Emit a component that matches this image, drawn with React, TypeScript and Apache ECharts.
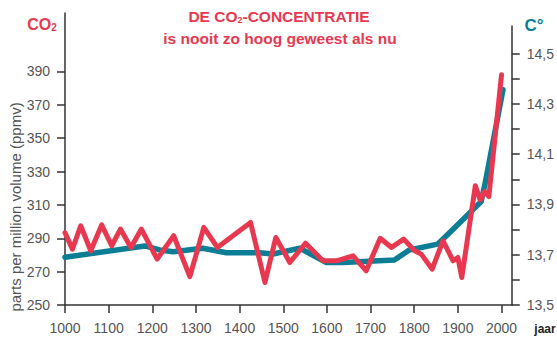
import React, { useEffect, useRef } from "react";
import * as echarts from "echarts";

const co2Years = [1000, 1017, 1036, 1059, 1084, 1107, 1127, 1151, 1175, 1211, 1249, 1286, 1318, 1349, 1425, 1458, 1483, 1515, 1551, 1591, 1622, 1660, 1690, 1722, 1748, 1776, 1801, 1816, 1841, 1866, 1889, 1900, 1909, 1940, 1951, 1961, 1971, 2000];
const co2Values = [293.3, 283.5, 297.5, 282.5, 298, 285.5, 295.5, 284.5, 295.5, 277.5, 291.5, 267, 296.5, 284.5, 299.5, 263.5, 290.5, 275.5, 287, 276.5, 276.5, 279.5, 270.5, 290, 284.5, 289.5, 282.5, 280.5, 271.5, 288.5, 276.5, 278.5, 266.5, 321.5, 313, 318, 315, 388];

const tempYears = [1000, 1183, 1217, 1248, 1316, 1370, 1446, 1477, 1538, 1599, 1637, 1755, 1789, 1854, 1896, 1954, 1963, 2004];
const tempValues = [13.69, 13.735, 13.719, 13.712, 13.726, 13.708, 13.708, 13.703, 13.726, 13.669, 13.669, 13.679, 13.719, 13.742, 13.812, 13.912, 13.985, 14.357];

const yearTicks = [1000, 1100, 1200, 1300, 1400, 1500, 1600, 1700, 1800, 1900, 2000];
const co2Ticks = [250, 270, 290, 310, 330, 350, 370, 390];
const tempTicks = [13.5, 13.6, 13.7, 13.8, 13.9, 14.0, 14.1, 14.2, 14.3, 14.4, 14.5];
const tempLabels = [13.5, 13.7, 13.9, 14.1, 14.3, 14.5];

const RED = "#e8384f";
const TEAL = "#0b7e96";
const FONT = "'Liberation Sans', Arial, sans-serif";
const AXIS = "#333";
const LABEL = "#555";

export default function App() {
  const ref = useRef<HTMLDivElement>(null);
  useEffect(() => {
    document.body.style.margin = "0";
    const chart = echarts.init(ref.current!, null, { renderer: "svg" });
    const grid = { left: 65, right: 45, bottom: 32 };
    const xBase = {
      type: "value" as const,
      min: 1000,
      max: 2024,
      splitLine: { show: false },
    };
    chart.setOption({
      animation: false,
      textStyle: { fontFamily: FONT },
      grid: [
        { ...grid, top: 13 },
        { ...grid, top: 26 },
      ],
      xAxis: [
        {
          ...xBase,
          gridIndex: 0,
          axisLine: { show: true, lineStyle: { color: AXIS, width: 1.5 } },
          axisTick: { show: true, length: 8, lineStyle: { color: AXIS, width: 1.5 }, customValues: yearTicks },
          axisLabel: {
            customValues: yearTicks,
            color: LABEL,
            fontSize: 14,
            margin: 16,
            fontFamily: FONT,
            formatter: (v: number) => String(v),
          },
        },
        { ...xBase, gridIndex: 1, show: false },
      ],
      yAxis: [
        {
          type: "value",
          gridIndex: 0,
          position: "left",
          min: 250,
          max: 425,
          splitLine: { show: false },
          axisLine: { show: true, lineStyle: { color: AXIS, width: 1.5 } },
          axisTick: { show: true, length: 8, lineStyle: { color: AXIS, width: 1.5 }, customValues: co2Ticks },
          axisLabel: { customValues: co2Ticks, color: LABEL, fontSize: 14, margin: 15, fontFamily: FONT },
        },
        {
          type: "value",
          gridIndex: 1,
          position: "right",
          min: 13.5,
          max: 14.61,
          splitLine: { show: false },
          axisLine: { show: true, lineStyle: { color: AXIS, width: 1.5 } },
          axisTick: { show: true, length: 8, lineStyle: { color: AXIS, width: 1.5 }, customValues: tempTicks },
          axisLabel: {
            customValues: tempLabels,
            color: LABEL,
            fontSize: 14,
            margin: 15,
            fontFamily: FONT,
            formatter: (v: number) => v.toFixed(1).replace(".", ","),
          },
        },
      ],
      series: [
        {
          type: "line",
          xAxisIndex: 1,
          yAxisIndex: 1,
          data: tempYears.map((y, i) => [y, tempValues[i]]),
          showSymbol: false,
          symbol: "none",
          lineStyle: { color: TEAL, width: 5.5, join: "round", cap: "round" },
          z: 2,
        },
        {
          type: "line",
          xAxisIndex: 0,
          yAxisIndex: 0,
          data: co2Years.map((y, i) => [y, co2Values[i]]),
          showSymbol: false,
          symbol: "none",
          lineStyle: { color: RED, width: 5, join: "round", cap: "round" },
          z: 3,
        },
      ],
      graphic: [
        {
          type: "text",
          x: 279,
          y: 16,
          style: {
            text: "{a|DE CO}{s|2}{a|-CONCENTRATIE}",
            align: "center",
            verticalAlign: "middle",
            rich: {
              a: { fontSize: 15.5, fontWeight: "bold", fill: RED, fontFamily: FONT },
              s: { fontSize: 9, fontWeight: "bold", fill: RED, fontFamily: FONT, verticalAlign: "bottom", padding: [6, 0, 0, 0] },
            },
          },
        },
        {
          type: "text",
          x: 280,
          y: 38,
          style: {
            text: "is nooit zo hoog geweest als nu",
            align: "center",
            verticalAlign: "middle",
            fontSize: 15.5,
            fontWeight: "bold",
            fill: RED,
            fontFamily: FONT,
          },
        },
        {
          type: "text",
          x: 42,
          y: 24,
          style: {
            text: "{a|CO}{s|2}",
            align: "center",
            verticalAlign: "middle",
            rich: {
              a: { fontSize: 16, fontWeight: "bold", fill: RED, fontFamily: "'Liberation Sans Narrow', " + FONT },
              s: { fontSize: 10, fontWeight: "bold", fill: RED, fontFamily: "'Liberation Sans Narrow', " + FONT, verticalAlign: "bottom", padding: [5, 0, 0, 0] },
            },
          },
        },
        {
          type: "text",
          x: 534,
          y: 25,
          style: {
            text: "C°",
            align: "center",
            verticalAlign: "middle",
            fontSize: 17,
            fontWeight: "bold",
            fill: TEAL,
            fontFamily: "'Liberation Sans Narrow', " + FONT,
          },
        },
        {
          type: "text",
          x: 545,
          y: 329,
          style: {
            text: "jaar",
            align: "center",
            verticalAlign: "middle",
            fontSize: 12,
            fontWeight: "bold",
            fill: "#222",
            fontFamily: FONT,
          },
        },
        {
          type: "text",
          x: 15,
          y: 207,
          rotation: Math.PI / 2,
          style: {
            text: "parts per million volume (ppmv)",
            align: "center",
            verticalAlign: "middle",
            fontSize: 15,
            fill: LABEL,
            fontFamily: FONT,
          },
        },
      ],
    });
    return () => chart.dispose();
  }, []);
  return <div ref={ref} style={{ width: 557, height: 337 }} />;
}
